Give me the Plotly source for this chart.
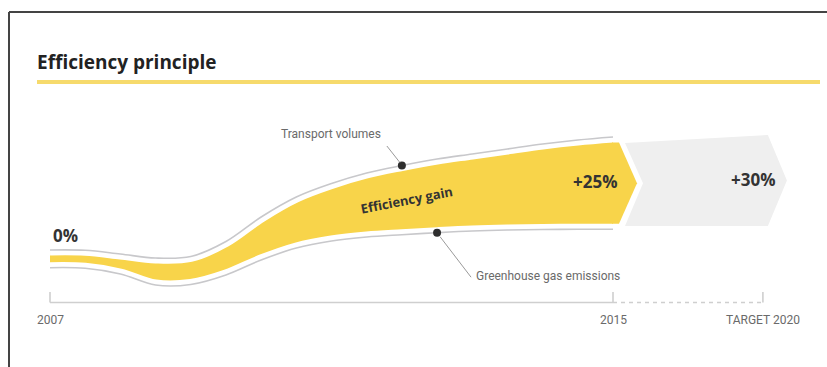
import plotly.graph_objects as go

# ---------------- data (schematic index values) ----------------
YEARS = [2007, 2007.5, 2008, 2008.5, 2009, 2009.5, 2010, 2010.5, 2011, 2011.5,
         2012, 2012.5, 2013, 2013.5, 2014, 2014.5, 2015]
TRANSPORT = [9, 8.7, 5, 1, 2.5, 17.5, 42, 62, 75.5, 86,
             93.5, 100, 105, 110, 115, 119, 122]
EMISSIONS = [-8.7, -9.3, -15, -26, -25.5, -16, -1, 11, 18, 22,
             24.3, 26.3, 28, 29, 29.5, 29.7, 29.7]

TICK_POS = [2007, 2015, 2017.13]          # target shown on a compressed time scale
TICK_LABELS = ["2007", "2015", "TARGET 2020"]
TARGET_UPPER = [116, 124]                 # grey target band (start, end)
TARGET_LOWER = [33, 33]
GAIN_LABELS = ["0%", "+25%", "+30%"]
SERIES_NAMES = ["Transport volumes", "Greenhouse gas emissions"]
BAND_LABEL = "Efficiency gain"
TITLE = "Efficiency principle"

# ---------------- styling ----------------
W, H = 827, 367
PX_X = 70.375            # pixels per year
PX_Y = 1.0               # pixels per index point
X0 = 2007 - 50 / PX_X
Y0 = -108
dx = lambda p: p / PX_X
dy = lambda p: p / PX_Y

YELLOW = "#f8d44a"
GREY_LINE = "#c8c8cb"
GREY_FILL = "#efefef"
DARK = "#2e2e2e"
LABEL = "#6a6a6a"
FONT = "Open Sans"
SMALL_FONT = "Roboto"

fig = go.Figure()

# yellow band between the two series
fig.add_trace(go.Scatter(x=YEARS, y=EMISSIONS, mode="lines", line=dict(width=0, shape="spline"),
                         hoverinfo="skip"))
fig.add_trace(go.Scatter(x=YEARS, y=TRANSPORT, mode="lines", line=dict(width=0, shape="spline"),
                         fill="tonexty", fillcolor=YELLOW, hoverinfo="skip"))
# white gaps + grey outline lines
for ser in (TRANSPORT, EMISSIONS):
    fig.add_trace(go.Scatter(x=YEARS, y=ser, mode="lines",
                             line=dict(width=11, color="white", shape="spline"), hoverinfo="skip"))
for ser in (TRANSPORT, EMISSIONS):
    fig.add_trace(go.Scatter(x=YEARS, y=ser, mode="lines",
                             line=dict(width=1.6, color=GREY_LINE, shape="spline"), hoverinfo="skip"))

# yellow arrow head at 2015
xe = YEARS[-1]
top = TRANSPORT[-1] - dy(5.5)
bot = EMISSIONS[-1] + dy(5.5)
mid = (top + bot) / 2
fig.add_trace(go.Scatter(
    x=[xe - dx(1), xe + dx(6), xe + dx(24), xe + dx(6), xe - dx(1)],
    y=[top, top, mid, bot, bot], fill="toself", fillcolor=YELLOW, mode="none", hoverinfo="skip"))

# grey target arrow
xt = TICK_POS[2]
tmid = (TARGET_UPPER[1] + TARGET_LOWER[1]) / 2
fig.add_trace(go.Scatter(
    x=[xe + dx(12), xt + dx(5), xt + dx(24), xt + dx(5), xe + dx(12), xe + dx(30), xe + dx(12)],
    y=[TARGET_UPPER[0], TARGET_UPPER[1], tmid, TARGET_LOWER[1], TARGET_LOWER[0], mid, TARGET_UPPER[0]],
    fill="toself", fillcolor=GREY_FILL, mode="none", hoverinfo="skip"))

# callout dots
i_t = YEARS.index(2012)
i_e = YEARS.index(2012.5)
fig.add_trace(go.Scatter(x=[YEARS[i_t], YEARS[i_e]], y=[TRANSPORT[i_t], EMISSIONS[i_e]],
                         mode="markers", marker=dict(size=8, color=DARK), hoverinfo="skip"))

shapes = []
# leader lines
shapes.append(dict(type="line", xref="x", yref="y",
                   x0=YEARS[i_t] - dx(15), y0=TRANSPORT[i_t] + dy(19.5),
                   x1=YEARS[i_t] - dx(2), y1=TRANSPORT[i_t] + dy(3),
                   line=dict(color="#9a9a9a", width=1)))
shapes.append(dict(type="line", xref="x", yref="y",
                   x0=YEARS[i_e] + dx(3), y0=EMISSIONS[i_e] - dy(4),
                   x1=YEARS[i_e] + dx(34), y1=EMISSIONS[i_e] - dy(44.5),
                   line=dict(color="#9a9a9a", width=1)))

# time axis
ybase = -43.5
ytick = ybase + dy(10.5)
shapes.append(dict(type="line", xref="x", yref="y", x0=TICK_POS[0], x1=TICK_POS[1], y0=ybase, y1=ybase,
                   line=dict(color="#cfcfcf", width=1.6)))
shapes.append(dict(type="line", xref="x", yref="y", x0=TICK_POS[1], x1=TICK_POS[2], y0=ybase, y1=ybase,
                   line=dict(color="#cfcfcf", width=1.4, dash="4px,4px")))
for tp in TICK_POS:
    shapes.append(dict(type="line", xref="x", yref="y", x0=tp, x1=tp, y0=ybase, y1=ytick,
                       line=dict(color="#cfcfcf", width=1.6)))

# frame and title rule
shapes.append(dict(type="line", xref="paper", yref="paper", x0=9 / W, x1=9 / W, y0=0, y1=1 - 12 / H,
                   line=dict(color="#444444", width=2)))
shapes.append(dict(type="line", xref="paper", yref="paper", x0=9 / W, x1=1, y0=1 - 12 / H, y1=1 - 12 / H,
                   line=dict(color="#444444", width=2)))
shapes.append(dict(type="line", xref="paper", yref="paper", x0=37 / W, x1=820 / W,
                   y0=1 - 82 / H, y1=1 - 82 / H, line=dict(color="#f6da6c", width=4)))

ann = []
ann.append(dict(text=f"<b>{TITLE}</b>", xref="paper", yref="paper", x=35 / W, y=1 - 62 / H,
                xanchor="left", yanchor="middle", showarrow=False,
                font=dict(family=FONT, size=19, color="#222222")))
for tp, tl in zip(TICK_POS, TICK_LABELS):
    ann.append(dict(text=tl, x=tp, y=ybase - dy(17), xref="x", yref="y", showarrow=False,
                    xanchor="center", yanchor="middle", font=dict(family=SMALL_FONT, size=12, color=LABEL)))
ann.append(dict(text=f"<b>{GAIN_LABELS[0]}</b>", x=YEARS[0], y=TRANSPORT[0] + dy(15), xref="x", yref="y",
                showarrow=False, xanchor="left", yanchor="middle", xshift=1,
                font=dict(family=FONT, size=17, color="#333333")))
ann.append(dict(text=f"<b>{GAIN_LABELS[1]}</b>", x=xe, y=mid + dy(1.5), xref="x", yref="y",
                showarrow=False, xanchor="right", yanchor="middle", xshift=6,
                font=dict(family=FONT, size=17, color="#333333")))
ann.append(dict(text=f"<b>{GAIN_LABELS[2]}</b>", x=xt, y=tmid + dy(1), xref="x", yref="y",
                showarrow=False, xanchor="right", yanchor="middle", xshift=14,
                font=dict(family=FONT, size=17, color="#333333")))
ann.append(dict(text=f"<b>{BAND_LABEL}</b>", x=2012.06, y=59, xref="x", yref="y", showarrow=False,
                textangle=-11, font=dict(family=FONT, size=13, color="#333333")))
ann.append(dict(text=SERIES_NAMES[0], x=YEARS[i_t] - dx(19), y=TRANSPORT[i_t] + dy(32),
                xref="x", yref="y", showarrow=False, xanchor="right", yanchor="middle",
                font=dict(family=SMALL_FONT, size=12, color=LABEL)))
ann.append(dict(text=SERIES_NAMES[1], x=YEARS[i_e] + dx(37), y=EMISSIONS[i_e] - dy(43.5),
                xref="x", yref="y", showarrow=False, xanchor="left", yanchor="middle",
                font=dict(family=SMALL_FONT, size=12, color=LABEL)))

fig.update_layout(
    width=W, height=H, margin=dict(l=0, r=0, t=0, b=0),
    paper_bgcolor="white", plot_bgcolor="white", showlegend=False,
    xaxis=dict(range=[X0, X0 + W / PX_X], visible=False, fixedrange=True),
    yaxis=dict(range=[Y0, Y0 + H / PX_Y], visible=False, fixedrange=True),
    shapes=shapes, annotations=ann,
)

fig.write_html("out.html")
